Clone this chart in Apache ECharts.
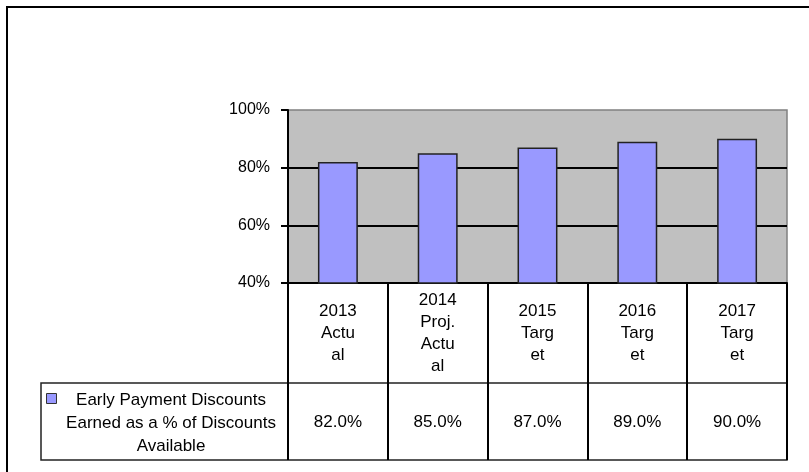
<!DOCTYPE html>
<html>
<head>
<meta charset="utf-8">
<script src="https://cdn.jsdelivr.net/npm/echarts@6/dist/echarts.min.js"></script>
<style>
html, body { margin: 0; padding: 0; background: #fff; }
#chart { width: 809px; height: 472px; }
</style>
</head>
<body>
<div id="chart"></div>
<script>
const categories = ['2013\nActu\nal', '2014\nProj.\nActu\nal', '2015\nTarg\net', '2016\nTarg\net', '2017\nTarg\net'];
const values = [82.0, 85.0, 87.0, 89.0, 90.0];
const seriesName = 'Early Payment Discounts\nEarned as a % of Discounts\nAvailable';
const yTicks = { min: 40, max: 100, interval: 20 };

const font = "'Liberation Sans', Arial, sans-serif";
const chart = echarts.init(document.getElementById('chart'));

chart.setOption({
    animation: false,
    textStyle: { fontFamily: font },
    grid: {
        left: 288,
        right: 22,
        top: 110,
        bottom: 189,
        show: true,
        backgroundColor: '#C0C0C0',
        borderColor: '#808080',
        borderWidth: 1.5
    },
    legend: {
        left: 41,
        top: 388,
        itemWidth: 10,
        itemHeight: 10,
        icon: 'rect',
        selectedMode: false,
        formatter: () => '',
        itemStyle: { borderColor: '#333', borderWidth: 1 }
    },
    xAxis: [{
        type: 'category',
        data: categories,
        axisLine: { lineStyle: { color: '#000', width: 2 } },
        // long ticks double as the data table column separators
        axisTick: { show: true, length: 177, lineStyle: { color: '#000', width: 2 } },
        axisLabel: {
            interval: 0,
            margin: 50,
            verticalAlign: 'middle',
            lineHeight: 22,
            fontSize: 17,
            color: '#000',
            fontFamily: font
        }
    }, {
        // value row of the data table
        type: 'category',
        position: 'bottom',
        offset: 100,
        data: values.map(v => v.toFixed(1) + '%'),
        axisLine: { show: false },
        axisTick: { show: false },
        axisLabel: {
            interval: 0,
            margin: 39,
            verticalAlign: 'middle',
            fontSize: 17,
            color: '#000',
            fontFamily: font
        }
    }],
    yAxis: {
        type: 'value',
        min: yTicks.min,
        max: yTicks.max,
        interval: yTicks.interval,
        axisLine: { show: true, lineStyle: { color: '#000', width: 2 } },
        axisTick: { show: true, length: 7, lineStyle: { color: '#000', width: 2 } },
        axisLabel: {
            margin: 18,
            fontSize: 16,
            color: '#000',
            fontFamily: font,
            formatter: '{value}%'
        },
        splitLine: {
            show: true,
            showMinLine: false,
            showMaxLine: false,
            lineStyle: { color: '#000', width: 2 }
        }
    },
    series: [{
        name: seriesName,
        type: 'bar',
        data: values,
        barWidth: '40%',
        itemStyle: { color: '#9999FF', borderColor: '#222', borderWidth: 1.5 }
    }],
    graphic: [{
        type: 'rect',
        shape: { x: 7, y: 7, width: 900, height: 600 },
        style: { fill: 'none', stroke: '#000', lineWidth: 2 },
        silent: true
    }, {
        type: 'rect',
        shape: { x: 41, y: 383, width: 746, height: 77 },
        style: { fill: 'none', stroke: '#222', lineWidth: 1.5 },
        silent: true
    }, {
        type: 'text',
        x: 171,
        y: 389,
        style: {
            text: seriesName,
            font: '17px ' + font,
            fill: '#000',
            align: 'center',
            verticalAlign: 'top',
            lineHeight: 23
        },
        silent: true
    }]
});
</script>
</body>
</html>
